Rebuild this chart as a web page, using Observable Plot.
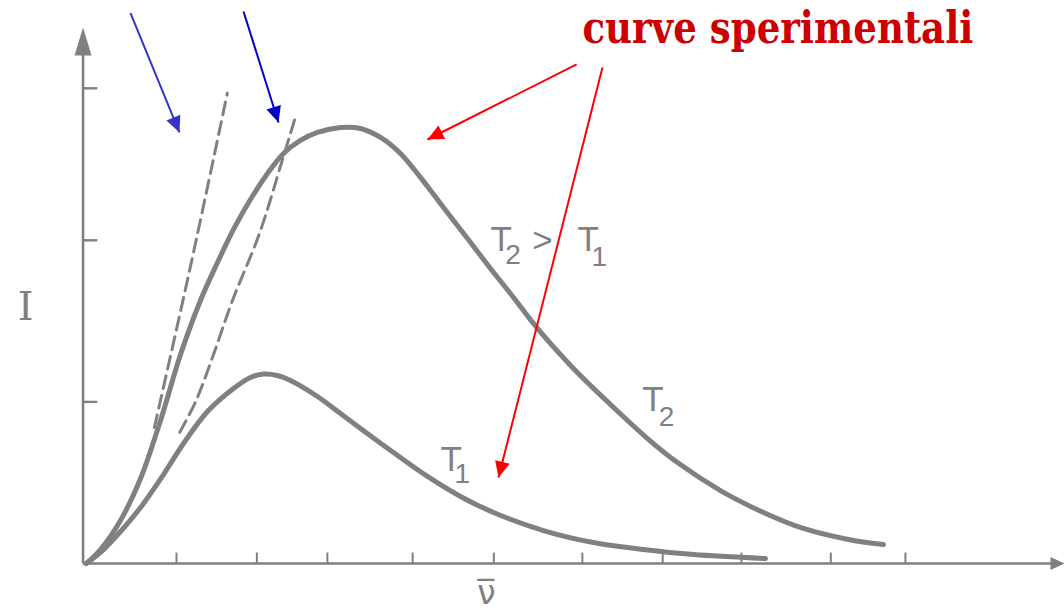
<!DOCTYPE html>
<html>
<head>
<meta charset="utf-8">
<script src="https://cdn.jsdelivr.net/npm/d3@7"></script>
<script src="https://cdn.jsdelivr.net/npm/@observablehq/plot@0.6"></script>
<style>
  html, body { margin: 0; padding: 0; background: #fff; }
  #chart { width: 1064px; height: 612px; overflow: hidden; }
  #chart svg { display: block; }
</style>
</head>
<body>
<div id="chart"></div>
<script>
// Black-body spectra: measured intensity I versus wavenumber ν̄ at two temperatures,
// plus the classical (Rayleigh–Jeans) predictions drawn dashed.

// Curve at the higher temperature T2
const nuT2 = [0.01, 0.183, 0.427, 0.671, 0.915, 1.159, 1.402, 1.61, 1.805, 2.012, 2.22, 2.415, 2.622, 2.829, 3.11, 3.354, 3.598, 3.841, 4.085, 4.366, 4.659, 4.939, 5.22, 5.512, 5.951, 6.402, 6.854, 7.22, 7.744, 8.268, 8.756, 9.366, 9.732];
const intensityT2 = [0, 0.0875, 0.269, 0.531, 0.894, 1.306, 1.644, 1.881, 2.088, 2.275, 2.438, 2.563, 2.644, 2.694, 2.725, 2.719, 2.663, 2.563, 2.413, 2.225, 2.031, 1.844, 1.663, 1.469, 1.219, 0.994, 0.781, 0.631, 0.456, 0.319, 0.219, 0.144, 0.119];

// Curve at the lower temperature T1
const nuT1 = [0.01, 0.183, 0.427, 0.671, 0.951, 1.195, 1.488, 1.805, 2.012, 2.171, 2.341, 2.5, 2.829, 3.11, 3.354, 3.756, 4.171, 4.573, 4.976, 5.585, 6.195, 6.805, 7.415, 8.293];
const intensityT1 = [0, 0.069, 0.2, 0.35, 0.556, 0.75, 0.95, 1.094, 1.163, 1.184, 1.175, 1.144, 1.044, 0.9375, 0.844, 0.694, 0.544, 0.419, 0.319, 0.206, 0.131, 0.0875, 0.056, 0.031];

// Classical predictions (dashed)
const nuClassicalT2 = [0.84, 1.29, 1.73];
const intensityClassicalT2 = [0.85, 1.88, 2.94];
const nuClassicalT1 = [1.15, 1.35, 1.55, 1.79, 2.12, 2.4, 2.56];
const intensityClassicalT1 = [0.82, 1.02, 1.29, 1.64, 2.06, 2.52, 2.79];

// Tick positions along the two axes (unlabelled)
const xTicks = [1.11, 2.09, 2.95, 3.99, 4.98, 6.06, 7.04, 8.0, 9.09, 10.0];
const yTicks = [1.01, 2.02, 2.97];

// Text
const title = "curve sperimentali";
const yLabel = "I";
const xLabel = "ν\u0305";
const letters = [
  {text: "T", nu: 4.94, I: 1.956},
  {text: ">", nu: 5.45, I: 1.95},
  {text: "T", nu: 6.0, I: 1.956},
  {text: "T", nu: 6.79, I: 0.956},
  {text: "T", nu: 4.33, I: 0.581}
];
const subscripts = [
  {text: "2", nu: 5.12, I: 1.869},
  {text: "1", nu: 6.17, I: 1.862},
  {text: "2", nu: 6.99, I: 0.862},
  {text: "1", nu: 4.5, I: 0.506}
];

// Pointer arrows: from (x1, y1) to the tip (x2, y2)
const pointers = [
  {x1: 0.549, y1: 3.44, x2: 1.146, y2: 2.694, color: "#3434cc"},
  {x1: 1.927, y1: 3.45, x2: 2.354, y2: 2.756, color: "#0000cc"},
  {x1: 5.99, y1: 3.119, x2: 4.171, y2: 2.65, color: "#ff0000"},
  {x1: 6.305, y1: 3.1, x2: 5.037, y2: 0.5375, color: "#ff0000"}
];

const table = (nu, I) => nu.map((v, i) => ({nu: v, I: I[i]}));
const t2 = table(nuT2, intensityT2);
const t1 = table(nuT1, intensityT1);
const classical2 = table(nuClassicalT2, intensityClassicalT2);
const classical1 = table(nuClassicalT1, intensityClassicalT1);

const grey = "#808080";
const xDomain = [0, 11.94];
const yDomain = [0, 3.35];
const W = 1064, H = 612;
const margin = {left: 85, right: 0, top: 27, bottom: 49};
const sx = d3.scaleLinear(xDomain, [margin.left, W - margin.right]);
const sy = d3.scaleLinear(yDomain, [H - margin.bottom, margin.top]);

// Filled triangular arrowhead with its tip at the anchor, pointing up before rotation
function head(len, wid) {
  return {
    draw(ctx) {
      ctx.moveTo(0, 0);
      ctx.lineTo(wid / 2, len);
      ctx.lineTo(-wid / 2, len);
      ctx.closePath();
    }
  };
}
// Screen-space heading of an arrow, in degrees clockwise from up
function bearing(p) {
  const dx = sx(p.x2) - sx(p.x1);
  const dy = sy(p.y2) - sy(p.y1);
  return Math.atan2(dx, -dy) * 180 / Math.PI;
}

const axisX0 = -0.03;

const chart = Plot.plot({
  width: W,
  height: H,
  marginLeft: margin.left,
  marginRight: margin.right,
  marginTop: margin.top,
  marginBottom: margin.bottom,
  x: {domain: xDomain, axis: null},
  y: {domain: yDomain, axis: null},
  style: {background: "#fff", overflow: "visible"},
  marks: [
    // axes with arrowheads
    Plot.ruleX([axisX0], {y1: 0, y2: 3.2, stroke: grey, strokeWidth: 2.6}),
    Plot.ruleY([0], {x1: axisX0, x2: 11.8, stroke: grey, strokeWidth: 2.4}),
    Plot.dot([{nu: axisX0, I: yDomain[1]}], {x: "nu", y: "I", symbol: head(28, 17), fill: grey, stroke: "none"}),
    Plot.dot([{nu: xDomain[1], I: 0}], {x: "nu", y: "I", symbol: head(14, 13), rotate: 90, fill: grey, stroke: "none"}),
    Plot.ruleY(yTicks, {x1: axisX0, x2: 0.15, stroke: grey, strokeWidth: 2.4}),
    Plot.ruleX(xTicks, {y1: 0, y2: 0.065, stroke: grey, strokeWidth: 2}),

    // classical predictions
    Plot.line(classical2, {x: "nu", y: "I", stroke: grey, strokeWidth: 3, strokeDasharray: "13,7", curve: "catmull-rom"}),
    Plot.line(classical1, {x: "nu", y: "I", stroke: grey, strokeWidth: 3, strokeDasharray: "13,7", curve: "catmull-rom"}),

    // measured spectra
    Plot.line(t2, {x: "nu", y: "I", stroke: grey, strokeWidth: 5, curve: "catmull-rom", strokeLinecap: "round", strokeLinejoin: "round"}),
    Plot.line(t1, {x: "nu", y: "I", stroke: grey, strokeWidth: 5, curve: "catmull-rom", strokeLinecap: "round", strokeLinejoin: "round"}),

    // curve labels
    Plot.text(letters, {x: "nu", y: "I", text: "text", fontSize: 35, fontFamily: "Liberation Sans", fill: grey, textAnchor: "start", lineAnchor: "bottom"}),
    Plot.text(subscripts, {x: "nu", y: "I", text: "text", fontSize: 28, fontFamily: "Liberation Sans", fill: grey, textAnchor: "start", lineAnchor: "bottom"}),

    // axis labels
    Plot.text([yLabel], {x: -0.73, y: 1.525, text: d => d, fontSize: 40, fontFamily: "DejaVu Serif", fill: grey, textAnchor: "middle", lineAnchor: "bottom"}),
    Plot.text([xLabel], {x: 4.89, y: -0.25, text: d => d, fontSize: 33, fontFamily: "DejaVu Sans", fill: grey, textAnchor: "middle", lineAnchor: "bottom"}),

    // heading
    Plot.text([title], {x: 6.06, y: 3.256, text: d => d, fontSize: 45, fontWeight: "bold", fontFamily: "DejaVu Serif", fill: "#cc0000", textAnchor: "start", lineAnchor: "bottom"}),

    // pointer arrows
    ...pointers.flatMap(p => [
      Plot.link([p], {x1: "x1", y1: "y1", x2: "x2", y2: "y2", stroke: p.color, strokeWidth: 2}),
      Plot.dot([p], {x: "x2", y: "y2", symbol: head(16, 15), rotate: bearing(p), fill: p.color, stroke: "none"})
    ])
  ]
});

document.getElementById("chart").appendChild(chart);

// Fit the heading to its measured width
for (const t of chart.querySelectorAll("text")) {
  if (t.textContent === title) {
    t.setAttribute("textLength", 391);
    t.setAttribute("lengthAdjust", "spacingAndGlyphs");
  }
}
</script>
</body>
</html>
